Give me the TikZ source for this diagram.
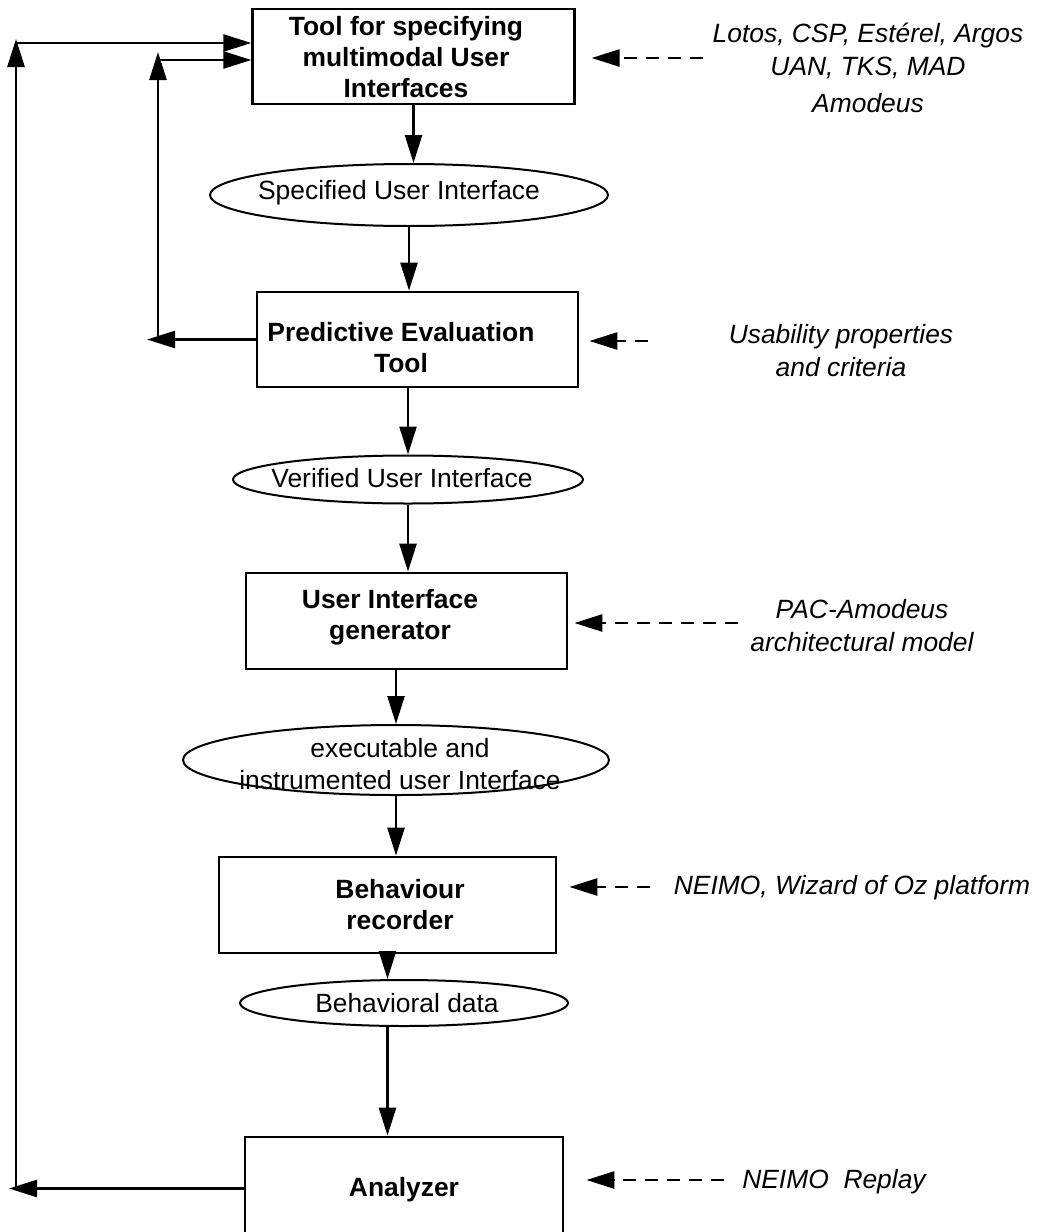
\documentclass[tikz,border=0pt]{standalone}
\usepackage{fontspec}
\setmainfont{Liberation Sans}
\usepackage{tikz}
\usetikzlibrary{shapes,arrows,arrows.meta,calc}
\tikzset{>={Triangle[length=14pt,width=8.5pt]}}
\tikzset{
  toolbox/.style={draw,line width=1.4pt,rectangle,inner sep=0pt},
  dataell/.style={draw,line width=1pt,ellipse,inner sep=0pt},
  boxtext/.style={font=\fontsize{13.2}{15.5}\selectfont\bfseries,align=center,inner sep=0pt},
  elltext/.style={font=\fontsize{13.2}{16}\selectfont,align=center,inner sep=0pt},
  notetext/.style={font=\fontsize{13.2}{16.5}\selectfont\itshape,align=center,inner sep=0pt},
  flow/.style={->,line width=1.3pt},
  hint/.style={->,line width=1.3pt,dash pattern=on 6.5pt off 4.5pt}
}

\begin{document}
\begin{tikzpicture}[line join=miter,x=0.5pt,y=-0.5pt]
		\useasboundingbox (0,0) rectangle (1041,1232);
		% tools
		\node[toolbox,minimum width=160.75pt,minimum height=47.5pt] (spec) at (413.5,56.5) {};
		\node[toolbox,minimum width=160.5pt,minimum height=47.5pt] (eval) at (417.5,339.5) {};
		\node[toolbox,minimum width=160.5pt,minimum height=48pt] (gen) at (406.5,621) {};
		\node[toolbox,minimum width=168.5pt,minimum height=48pt] (rec) at (387.5,905) {};
		\node[toolbox,minimum width=159pt,minimum height=51.5pt] (ana) at (404,1188.5) {};
		\node[boxtext] (specT) at (406,57) {Tool for specifying\\multimodal User\\Interfaces};
		\node[boxtext] (evalT) at (401,348) {Predictive Evaluation\\Tool};
		\node[boxtext] (genT) at (390,617) {User Interface\\generator};
		\node[boxtext] (recT) at (400,905) {Behaviour\\recorder};
		\node[boxtext] (anaT) at (404,1190) {Analyzer};
		% data
		\node[dataell,minimum width=199pt,minimum height=31pt] (ui1) at (409,195) {};
		\node[dataell,minimum width=175pt,minimum height=24pt] (ui2) at (408,479.5) {};
		\node[dataell,minimum width=213pt,minimum height=35pt] (ui3) at (396,760) {};
		\node[dataell,minimum width=164pt,minimum height=23pt] (beh) at (404,1003) {};
		\node[elltext] (ui1T) at (399,193) {Specified User Interface};
		\node[elltext] (ui2T) at (402,478) {Verified User Interface};
		\node[elltext] (ui3T) at (400,764) {executable and\\instrumented user Interface};
		\node[elltext] (behT) at (407,1003) {Behavioral data};
		% main chain
		\draw[flow] (spec.south) -- (spec.south |- ui1.north);
		\draw[flow] (ui1.south) -- (ui1.south |- eval.north);
		\draw[flow] (ui2.north |- eval.south) -- (ui2.north);
		\draw[flow] (ui2.south) -- (ui2.south |- gen.north);
		\draw[flow] (ui3.north |- gen.south) -- (ui3.north);
		\draw[flow] (ui3.south) -- (ui3.south |- rec.north);
		\draw[flow] (rec.south) -- (rec.south |- beh.north);
		\draw[flow] (rec.south |- beh.south) -- (rec.south |- ana.north);
		% feedback loops
		\coordinate (loopA) at (9,1188.5);
		\coordinate (loopB) at (16,1190);
		\coordinate (loopC) at (16,39);
		\coordinate (loopD) at (16,43);
		\draw[flow] (ana.west) -- (loopA);
		\draw[flow] (loopB) -- (loopC);
		\draw[flow] (loopD) -- (loopD -| spec.west);
		\coordinate (evalA) at (147,339.5);
		\coordinate (evalB) at (158,341);
		\coordinate (evalC) at (158,52);
		\coordinate (evalD) at (158,60);
		\draw[flow] (eval.west) -- (evalA);
		\draw[flow] (evalB) -- (evalC);
		\draw[flow] (evalD) -- (evalD -| spec.west);
		% notations and tools used
		\node[notetext] (langs) at (868,68) {Lotos, CSP, Estérel, Argos\\UAN, TKS, MAD\\[2pt]Amodeus};
		\node[notetext] (usab) at (841,351) {Usability properties\\and criteria};
		\node[notetext] (pac) at (862,626) {PAC-Amodeus\\architectural model};
		\node[notetext] (woz) at (852,888) {NEIMO, Wizard of Oz platform};
		\node[notetext] (replay) at (834,1182) {NEIMO\ \ Replay};
		\coordinate (langsD) at (703,58);
		\coordinate (usabD) at (648,341);
		\coordinate (pacD) at (738,623);
		\coordinate (wozD) at (650,887);
		\coordinate (replayD) at (724,1180);
		\draw[hint,shorten >=8pt] (langsD) -- (langsD -| spec.east);
		\draw[hint,shorten >=5pt] (usabD) -- (usabD -| eval.east);
		\draw[hint,shorten >=3pt] (pacD) -- (pacD -| gen.east);
		\draw[hint,shorten >=6pt] (wozD) -- (wozD -| rec.east);
		\draw[hint,shorten >=11pt] (replayD) -- (replayD -| ana.east);
\end{tikzpicture}
\end{document}
